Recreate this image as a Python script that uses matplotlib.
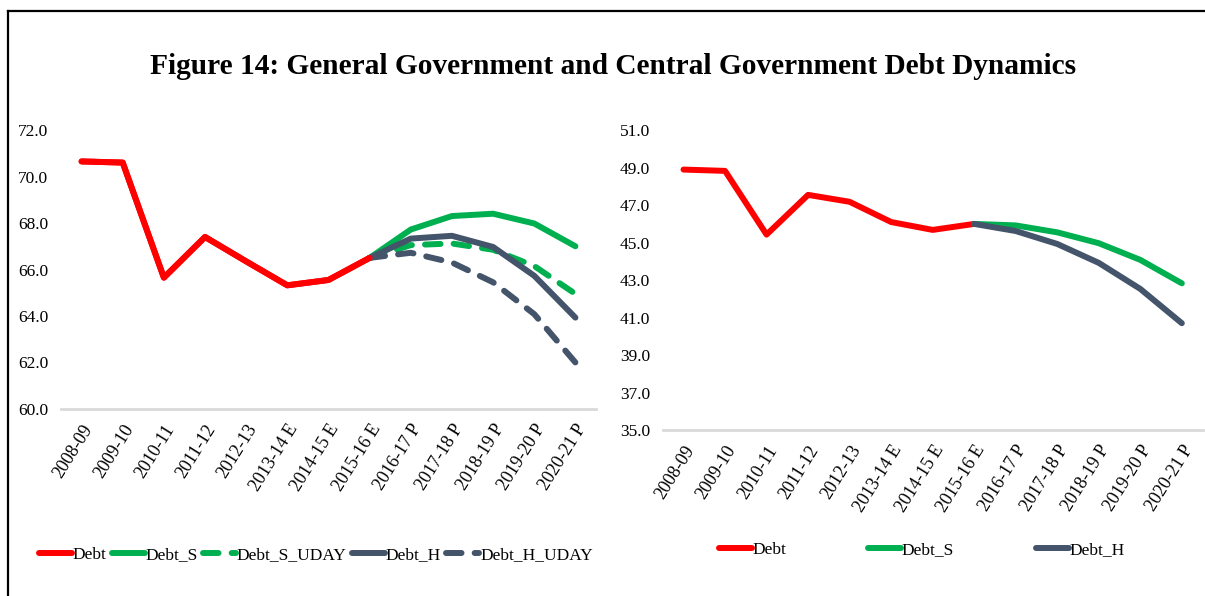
import matplotlib.pyplot as plt
from matplotlib.lines import Line2D

plt.rcParams['font.family'] = ['Liberation Serif', 'DejaVu Serif']

years = ['2008-09', '2009-10', '2010-11', '2011-12', '2012-13', '2013-14 E',
         '2014-15 E', '2015-16 E', '2016-17 P', '2017-18 P', '2018-19 P',
         '2019-20 P', '2020-21 P']

# general government (left panel)
gg_debt = [70.65, 70.6, 65.65, 67.4, 66.35, 65.32, 65.55, 66.5]
gg_debt_s = [66.5, 67.72, 68.3, 68.4, 67.98, 67.0]
gg_debt_s_uday = [66.5, 67.05, 67.12, 66.85, 66.15, 64.95]
gg_debt_h = [66.5, 67.33, 67.45, 66.97, 65.73, 63.93]
gg_debt_h_uday = [66.5, 66.72, 66.3, 65.45, 64.08, 62.0]

# central government (right panel)
cg_debt = [48.9, 48.83, 45.43, 47.55, 47.18, 46.1, 45.68, 46.0]
cg_debt_s = [46.0, 45.92, 45.55, 44.97, 44.08, 42.83]
cg_debt_h = [46.0, 45.62, 44.93, 43.92, 42.53, 40.7]

red = '#FF0000'
green = '#00B050'
slate = '#44546A'

fig = plt.figure(figsize=(12.05, 5.96), dpi=100)

fig.text(0.509, 0.889, 'Figure 14: General Government and Central Government Debt Dynamics',
         ha='center', va='center', fontsize=21.2, fontweight='bold')

# frame around the figure (left and top)
fig.add_artist(Line2D([0.0066, 0.0066], [0.0, 0.982], color='black', lw=1.6,
                      transform=fig.transFigure))
fig.add_artist(Line2D([0.0066, 1.0], [0.982, 0.982], color='black', lw=1.6,
                      transform=fig.transFigure))

ax1 = fig.add_axes([0.0506, 0.3138, 0.444, 0.468])
ax2 = fig.add_axes([0.550, 0.2785, 0.448, 0.503])

lw = 4.3
x_hist = range(0, 8)
x_proj = range(7, 13)

ax1.plot(x_hist, gg_debt, color=red, lw=lw, solid_capstyle='round', label='Debt')
ax1.plot(x_proj, gg_debt_s, color=green, lw=lw, solid_capstyle='round', label='Debt_S')
ax1.plot(x_proj, gg_debt_s_uday, color=green, lw=lw, dashes=(2.6, 2.2),
         dash_capstyle='round', label='Debt_S_UDAY')
ax1.plot(x_proj, gg_debt_h, color=slate, lw=lw, solid_capstyle='round', label='Debt_H')
ax1.plot(x_proj, gg_debt_h_uday, color=slate, lw=lw, dashes=(2.6, 2.2),
         dash_capstyle='round', label='Debt_H_UDAY')
ax1.plot(x_hist, gg_debt, color=red, lw=lw, solid_capstyle='round')

ax2.plot(x_hist, cg_debt, color=red, lw=lw, solid_capstyle='round', label='Debt')
ax2.plot(x_proj, cg_debt_s, color=green, lw=lw, solid_capstyle='round', label='Debt_S')
ax2.plot(x_proj, cg_debt_h, color=slate, lw=lw, solid_capstyle='round', label='Debt_H')

for ax, lo, hi in [(ax1, 60, 72), (ax2, 35, 51)]:
    ax.set_ylim(lo, hi)
    ax.set_yticks(range(lo, hi + 1, 2))
    ax.set_yticklabels(['%.1f' % v for v in range(lo, hi + 1, 2)], fontsize=12.5)
    ax.set_xlim(-0.5, 12.5)
    ax.set_xticks(range(len(years)))
    ax.set_xticklabels(years, rotation=58, ha='right', rotation_mode='anchor', fontsize=13)
    ax.tick_params(length=0, pad=9)
    for s in ['top', 'right', 'left']:
        ax.spines[s].set_visible(False)
    ax.spines['bottom'].set_color('#D9D9D9')
    ax.spines['bottom'].set_linewidth(2)
    ax.patch.set_alpha(0)

ax1.legend(loc='center', bbox_to_anchor=(0.262, 0.069), bbox_transform=fig.transFigure,
           ncol=5, frameon=False, fontsize=12.5, handlelength=1.9, handletextpad=0.05,
           columnspacing=0.3)
ax2.legend(loc='center', bbox_to_anchor=(0.765, 0.077), bbox_transform=fig.transFigure,
           ncol=3, frameon=False, fontsize=12.5, handlelength=1.9, handletextpad=0.05,
           columnspacing=4.7)

fig.savefig('out.png', dpi=100)
